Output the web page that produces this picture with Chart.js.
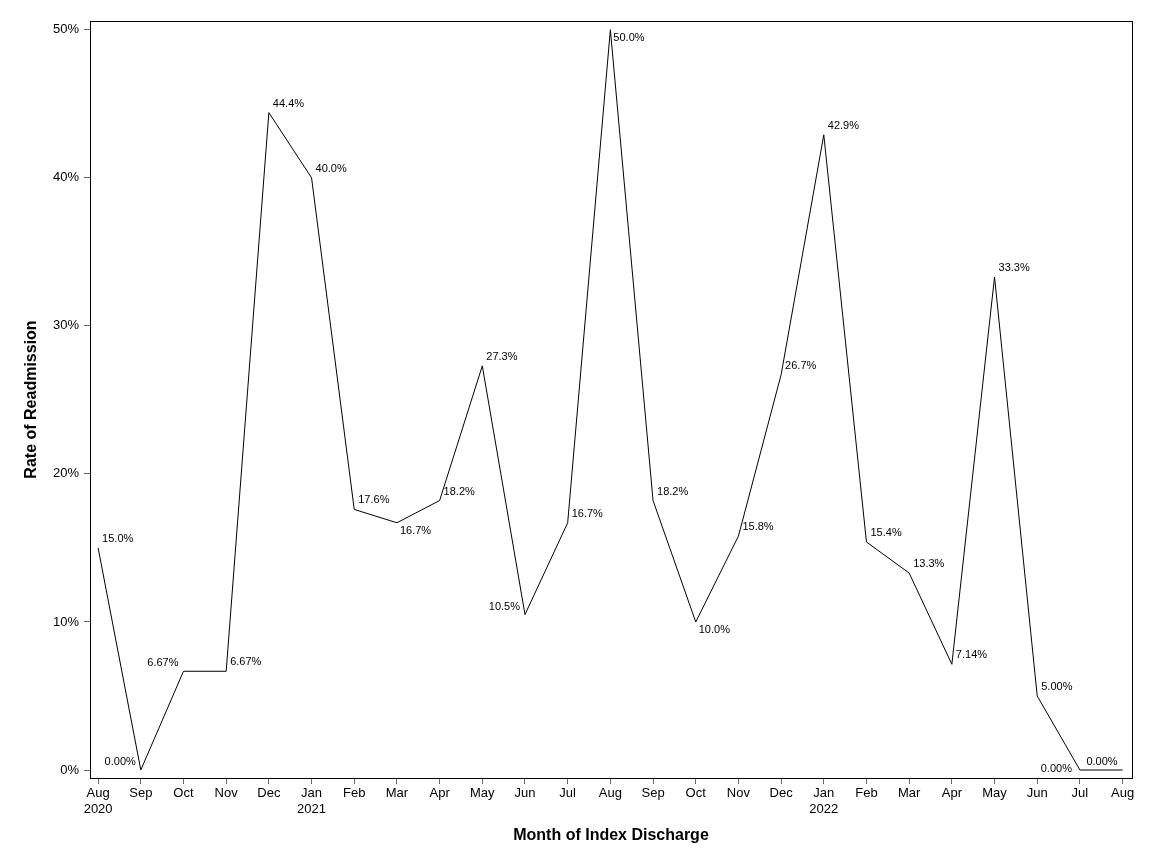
<!DOCTYPE html>
<html>
<head>
<meta charset="utf-8">
<title>Rate of Readmission</title>
<script src="https://cdn.jsdelivr.net/npm/chart.js@4/dist/chart.umd.min.js"></script>
<style>
  body { margin: 0; background: #fff; }
  canvas { display: block; }
</style>
</head>
<body>
<canvas id="readmitChart" width="1152" height="864"></canvas>
<script>
// months of index discharge, Aug 2020 - Aug 2022
const months = ['Aug', 'Sep', 'Oct', 'Nov', 'Dec', 'Jan', 'Feb', 'Mar', 'Apr', 'May', 'Jun', 'Jul',
                'Aug', 'Sep', 'Oct', 'Nov', 'Dec', 'Jan', 'Feb', 'Mar', 'Apr', 'May', 'Jun', 'Jul', 'Aug'];
const years = ['2020', '', '', '', '', '2021', '', '', '', '', '', '',
               '', '', '', '', '', '2022', '', '', '', '', '', '', ''];
// readmission rate in percent
const rates = [15.0, 0.00, 6.67, 6.67, 44.4, 40.0, 17.6, 16.7, 18.2, 27.3, 10.5, 16.7,
               50.0, 18.2, 10.0, 15.8, 26.7, 42.9, 15.4, 13.3, 7.14, 33.3, 5.00, 0.00, 0.00];
// where each value label sits relative to its point
const labelPlace = ['ur', 'ul', 'ul', 'ur', 'ur', 'ur', 'ur', 'dr', 'ur', 'ur', 'ul', 'ur',
                    'dr', 'ur', 'dr', 'ur', 'ur', 'ur', 'ur', 'ur', 'ur', 'ur', 'ur', 'l', 'ul'];
const yTicks = [0, 10, 20, 30, 40, 50];

const FONT = "'Liberation Sans', Arial, sans-serif";

// black frame round the plot area
const framePlugin = {
    id: 'frame',
    afterDraw(chart) {
        const a = chart.chartArea;
        const ctx = chart.ctx;
        ctx.save();
        ctx.strokeStyle = '#000';
        ctx.lineWidth = 1;
        ctx.strokeRect(Math.round(a.left) + 0.5, Math.round(a.top) + 0.5,
                       Math.round(a.right - a.left), Math.round(a.bottom - a.top));
        ctx.restore();
    }
};

// value labels next to each point
const labelPlugin = {
    id: 'pointLabels',
    afterDatasetsDraw(chart) {
        const ctx = chart.ctx;
        const meta = chart.getDatasetMeta(0);
        ctx.save();
        ctx.font = '11px ' + FONT;
        ctx.fillStyle = '#000';
        ctx.textBaseline = 'middle';
        meta.data.forEach((pt, i) => {
            const txt = rates[i].toPrecision(3) + '%';
            const p = labelPlace[i];
            let dx = 4, dy = -9;
            ctx.textAlign = 'left';
            if (p === 'ul') { dx = -5; dy = -8; ctx.textAlign = 'right'; }
            else if (p === 'dr') { dx = 3; dy = 8; }
            else if (p === 'l') { dx = -8; dy = -1; ctx.textAlign = 'right'; }
            ctx.fillText(txt, pt.x + dx, pt.y + dy);
        });
        ctx.restore();
    }
};

const ctx = document.getElementById('readmitChart').getContext('2d');
new Chart(ctx, {
    type: 'line',
    data: {
        datasets: [{
            data: rates.map((v, i) => ({ x: i, y: v })),
            borderColor: '#000',
            borderWidth: 1,
            pointRadius: 0,
            tension: 0,
            fill: false
        }]
    },
    options: {
        responsive: false,
        animation: false,
        layout: { padding: { top: 21, right: 20, bottom: 0, left: 0 } },
        plugins: {
            legend: { display: false },
            tooltip: { enabled: false }
        },
        scales: {
            x: {
                type: 'linear',
                min: -0.19,
                max: 24.22,
                afterBuildTicks: scale => { scale.ticks = months.map((m, i) => ({ value: i })); },
                afterFit: scale => { scale.height = 86; },
                ticks: {
                    autoSkip: false,
                    maxRotation: 0,
                    padding: 2,
                    color: '#000',
                    font: { family: FONT, size: 13 },
                    callback: v => years[v] ? [months[v], years[v]] : months[v]
                },
                grid: { drawOnChartArea: false, drawTicks: true, tickLength: 6, color: '#666' },
                border: { color: '#000' },
                title: {
                    display: true,
                    text: 'Month of Index Discharge',
                    color: '#000',
                    font: { family: FONT, size: 16, weight: 'bold' },
                    padding: { top: 0, bottom: 19 }
                }
            },
            y: {
                min: -0.54,
                max: 50.59,
                afterBuildTicks: scale => { scale.ticks = yTicks.map(v => ({ value: v })); },
                afterFit: scale => { scale.width = 90; },
                ticks: {
                    padding: 5,
                    color: '#000',
                    font: { family: FONT, size: 13 },
                    callback: v => v + '%'
                },
                grid: { drawOnChartArea: false, drawTicks: true, tickLength: 6, color: '#666' },
                border: { color: '#000' },
                title: {
                    display: true,
                    text: 'Rate of Readmission',
                    color: '#000',
                    font: { family: FONT, size: 16, weight: 'bold' },
                    padding: { top: 22, bottom: 0 }
                }
            }
        }
    },
    plugins: [labelPlugin, framePlugin]
});
</script>
</body>
</html>
